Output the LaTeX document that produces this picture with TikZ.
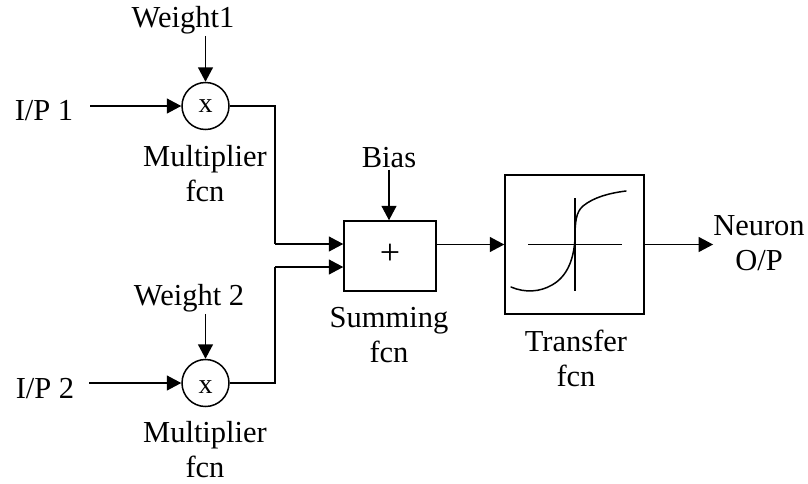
\documentclass[tikz,border=0pt]{standalone}
\usepackage{fontspec}
\setmainfont{Liberation Serif}
\usetikzlibrary{arrows.meta}
\begin{document}
\begin{tikzpicture}[x=1pt,y=-1pt,
  lbl/.style={inner sep=0pt,font=\fontsize{30.5}{35}\selectfont,align=center},
  one/.style={lbl,anchor=base},
  mult/.style={circle,draw,line width=1.5pt,minimum size=47,inner sep=0pt},
  blockbox/.style={draw,line width=1.5pt,inner sep=0pt},
  conn/.style={line width=1.5pt,-{Triangle[length=14.5pt,width=15pt]}},
  plain/.style={line width=1.5pt}]
\useasboundingbox (0,0) rectangle (808,483);
\node[one] (w1) at (183,27) {Weight1};
\node[one] (ip1) at (44,120) {I/P 1};
\node[mult] (m1) at (205.5,106) {};
\node[one,font=\fontsize{28}{32}\selectfont] at (205.5,112) {x};
\node[lbl] (mt1) at (205,174) {Multiplier\\fcn};
\node[one] (bias) at (389,167) {Bias};
\node[blockbox,minimum width=92,minimum height=70] (sum) at (390,256) {};
\node[one,font=\fontsize{36}{40}\selectfont] at (390,264) {+};
\node[lbl] (st) at (389,335) {Summing\\fcn};
\node[blockbox,minimum width=139,minimum height=139] (tf) at (574.5,244.5) {};
\node[lbl] (tt) at (576,358) {Transfer\\fcn};
\node[lbl] (no) at (759,243) {Neuron\\O/P};
\node[one] (w2) at (189,305) {Weight 2};
\node[one] (ip2) at (45,398) {I/P 2};
\node[mult] (m2) at (205.5,383) {};
\node[one,font=\fontsize{28}{32}\selectfont] at (205.5,393) {x};
\node[lbl] (mt2) at (205,450) {Multiplier\\fcn};
\coordinate (a) at (275,244);
\coordinate (b) at (275,267);
\draw[conn,shorten <=2pt] (w1.south -| m1) -- (m1);
\draw[conn,shorten <=17pt] (ip1.east |- m1) -- (m1);
\draw[plain] (m1.east) -| (a);
\draw[conn] (a) -- (a -| sum.west);
\draw[conn,shorten <=2pt] (w2.south -| m2) -- (m2);
\draw[conn,shorten <=15pt] (ip2.east |- m2) -- (m2);
\draw[plain] (m2.east) -| (b);
\draw[conn] (b) -- (b -| sum.west);
\draw[conn,shorten <=2pt] (bias.south) -- (bias.south |- sum.north);
\draw[conn] (sum.east |- tf.west) -- (tf.west);
\draw[conn] (tf.east) -- (no.west |- tf.east);
\draw[plain] (528,244.5) -- (622,244.5);
\draw[plain] (575,198) -- (575,291);
\draw[plain,line cap=round] (511,287) .. controls (525,293) and (540,292) .. (552,285) .. controls (568,276) and (574,258) .. (575,238) .. controls (575,222) and (576,212) .. (583,206) .. controls (594,197) and (610,193) .. (626,191);
\end{tikzpicture}
\end{document}
